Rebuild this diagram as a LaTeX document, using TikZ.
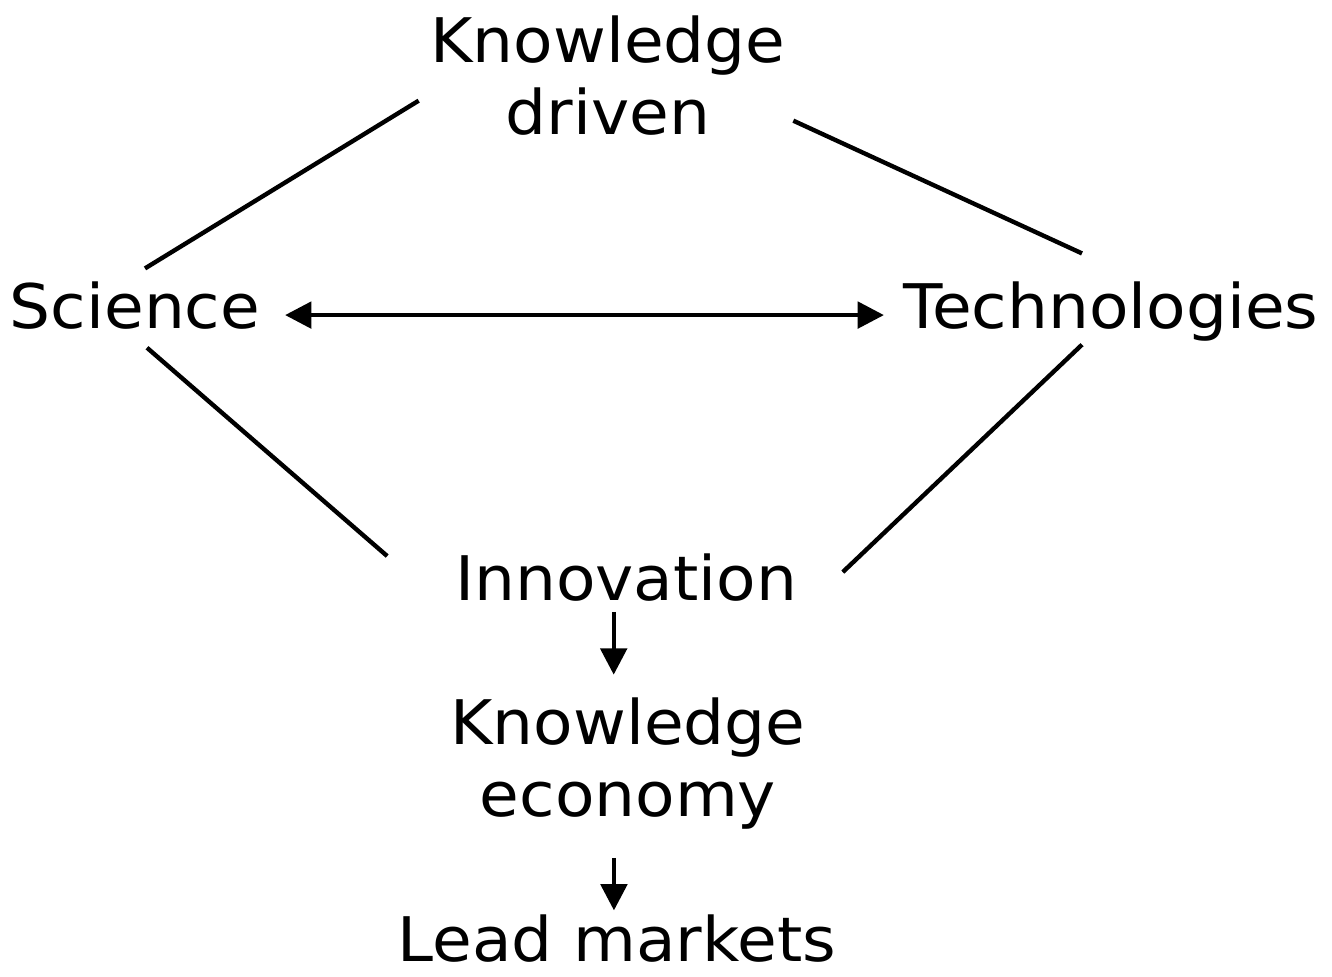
\documentclass[tikz,border=0pt]{standalone}
\usepackage{fontspec}
\setmainfont[FakeStretch=1.05]{DejaVu Sans}
\usetikzlibrary{arrows.meta,positioning}

\begin{document}
\begin{tikzpicture}[x=0.02cm, y=-0.02cm, inner sep=2pt,
		every node/.style={font=\fontsize{35}{41}\selectfont, align=center},
		link/.style={line width=2.5pt},
		flow/.style={line width=2.5pt, -{Triangle[length=15pt,width=15pt]}},
		both/.style={line width=2.5pt, {Triangle[length=15pt,width=15pt]}-{Triangle[length=15pt,width=15pt]}}]
			\useasboundingbox (0, 0) rectangle (1332, 977);
			\node [anchor=north] (driven) at (608, 12) {Knowledge\\driven};
			\node [anchor=base] (science) at (135, 328) {Science};
			\node [anchor=base] (tech) at (1111, 328) {Technologies};
			\node [anchor=base] (innov) at (626, 600) {Innovation};
			\node [anchor=north] (economy) at (628, 694) {Knowledge\\economy};
			\node [anchor=base] (lead) at (617, 961) {Lead markets};
			
			\draw [link] ([shift={(-8, 25)}]driven.west) to ([shift={(10, -9)}]science.north);
			\draw [link] ([shift={(4, 45)}]driven.east) to ([shift={(-29, -24)}]tech.north);
			\draw [link] ([shift={(12, 15)}]science.south) to ([shift={(-64, -21)}]innov.west);
			\draw [link] ([shift={(-29, 0)}]tech.south) to ([shift={(42, -5)}]innov.east);
			\draw [both, shorten <=12pt, shorten >=9pt] ([shift={(0, 10)}]science.east) to ([shift={(0, 10)}]science.east -| tech.west);
			\draw [flow, shorten <=4pt, shorten >=11pt] ([xshift=-7pt]innov.south) to ([xshift=-7pt]innov.south |- economy.north);
			\draw [flow, shorten <=14pt, shorten >=0pt] ([xshift=-8pt]economy.south) to ([xshift=-8pt]economy.south |- lead.north);
		\end{tikzpicture}
\end{document}
